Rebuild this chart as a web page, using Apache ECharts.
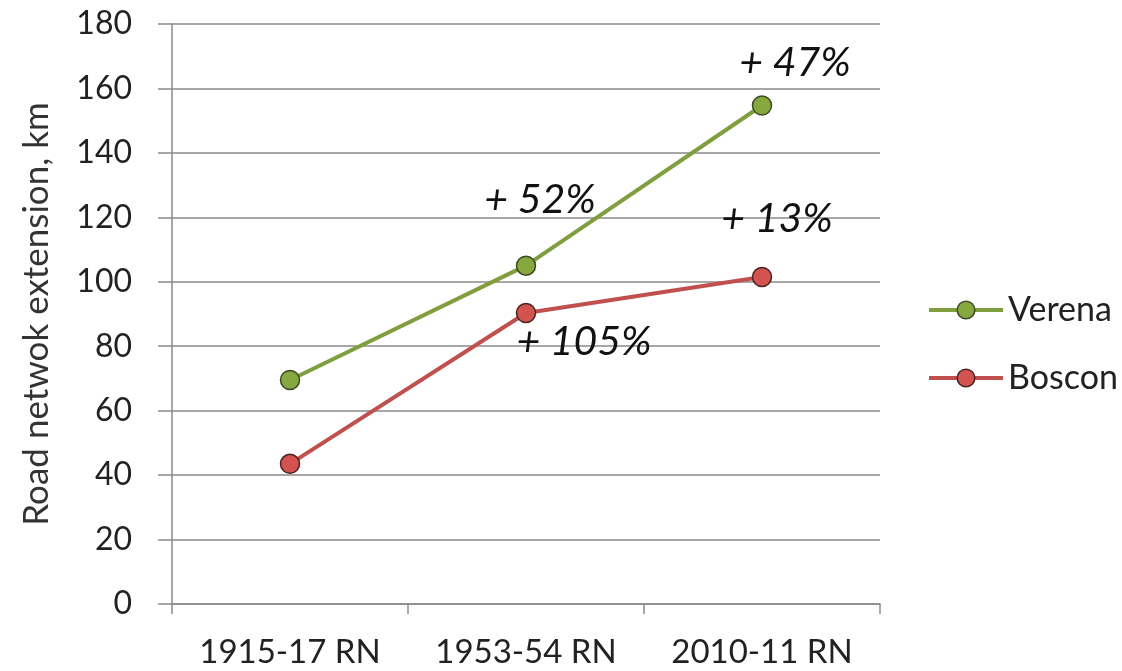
<!DOCTYPE html>
<html>
<head>
<meta charset="utf-8">
<script src="https://cdn.jsdelivr.net/npm/echarts@6/dist/echarts.min.js"></script>
<style>
  html, body { margin: 0; padding: 0; background: #fff; }
  #chart { width: 1122px; height: 671px; }
</style>
</head>
<body>
<div id="chart"></div>
<script>
// Road network extension per census period
const periods = ['1915-17 RN', '1953-54 RN', '2010-11 RN'];
const verena = [69.5, 105, 154.7];
const boscon = [43.5, 90.3, 101.5];
// Growth against the previous period
const verenaGrowth = ['', '+ 52%', '+ 47%'];
const bosconGrowth = ['', '+ 105%', '+ 13%'];
const yTicks = { min: 0, max: 180, interval: 20 };

const FONT = 'Lato';
const GREEN = '#7f9f3f', GREEN_FILL = '#86a83f';
const RED = '#c0504d', RED_FILL = '#d2534f';

// Offsets of the growth annotations relative to their points
const verenaOffsets = [null, [14, -66], [33, -43]];
const bosconOffsets = [null, [58, 29], [15, -58]];

function withLabels(values, labels, offsets) {
  return values.map((v, i) => {
    if (!labels[i]) return { value: v };
    return {
      value: v,
      label: {
        show: true,
        position: 'inside',
        offset: offsets[i],
        formatter: labels[i],
        fontFamily: FONT,
        fontStyle: 'italic',
        fontSize: 41,
        color: '#111'
      }
    };
  });
}

const chart = echarts.init(document.getElementById('chart'));
chart.setOption({
  animation: false,
  backgroundColor: '#fff',
  textStyle: { fontFamily: FONT },
  grid: { left: 172, right: 242, top: 24, bottom: 67, containLabel: false },
  legend: {
    orient: 'vertical',
    left: 922,
    top: 288,
    itemWidth: 74,
    itemHeight: 22,
    itemGap: 34,
    lineStyle: { width: 4 },
    itemStyle: { borderWidth: 1.5 },
    textStyle: { fontFamily: FONT, fontSize: 34, lineHeight: 34, color: '#222' },
    data: ['Verena', 'Boscon']
  },
  xAxis: {
    type: 'category',
    data: periods,
    boundaryGap: true,
    axisLine: { lineStyle: { color: '#8a8a8a', width: 1.5 } },
    axisTick: { show: true, inside: false, length: 10, lineStyle: { color: '#8a8a8a', width: 1.5 } },
    axisLabel: { fontFamily: FONT, fontSize: 33, color: '#222', margin: 32 }
  },
  yAxis: {
    type: 'value',
    min: yTicks.min,
    max: yTicks.max,
    interval: yTicks.interval,
    name: 'Road netwok extension, km',
    nameLocation: 'middle',
    nameGap: 118,
    nameTextStyle: { fontFamily: FONT, fontSize: 35, color: '#333' },
    axisLine: { show: true, lineStyle: { color: '#8a8a8a', width: 1.5 } },
    axisTick: { show: true, length: 14, lineStyle: { color: '#8a8a8a', width: 1.5 } },
    axisLabel: { fontFamily: FONT, fontSize: 32, color: '#222', margin: 40 },
    splitLine: { lineStyle: { color: '#8a8a8a', width: 1.5 } }
  },
  series: [
    {
      name: 'Verena',
      type: 'line',
      data: withLabels(verena, verenaGrowth, verenaOffsets),
      symbol: 'circle',
      symbolSize: 19,
      lineStyle: { color: GREEN, width: 4 },
      itemStyle: { color: GREEN_FILL, borderColor: '#3b4a22', borderWidth: 1.5 },
      label: { show: false },
      z: 3
    },
    {
      name: 'Boscon',
      type: 'line',
      data: withLabels(boscon, bosconGrowth, bosconOffsets),
      symbol: 'circle',
      symbolSize: 19,
      lineStyle: { color: RED, width: 4 },
      itemStyle: { color: RED_FILL, borderColor: '#4a2321', borderWidth: 1.5 },
      label: { show: false },
      z: 3
    }
  ]
});
</script>
</body>
</html>
